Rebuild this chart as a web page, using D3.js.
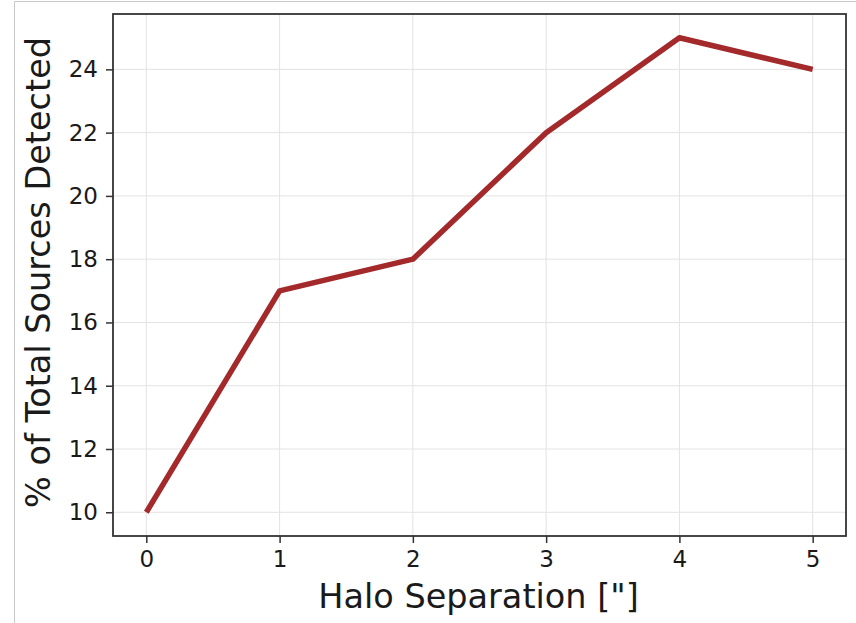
<!DOCTYPE html>
<html>
<head>
<meta charset="utf-8">
<script src="https://cdn.jsdelivr.net/npm/d3@7"></script>
<style>
	html, body { margin: 0; padding: 0; background: #fff; }
	svg { display: block; }
	.tick text { font-family: 'DejaVu Sans', sans-serif; fill: #1a1a1a; }
</style>
</head>
<body>
<div id="chart"></div>
<script>
// data
const separations = [0, 1, 2, 3, 4, 5];
const detectedPct = [10, 17, 18, 22, 25, 24];
const xTicks = [0, 1, 2, 3, 4, 5];
const yTicks = [10, 12, 14, 16, 18, 20, 22, 24];

const W = 856, H = 623;
const m = { top: 14, right: 10, bottom: 87, left: 113 };
const width = W - m.left - m.right,
	height = H - m.top - m.bottom;

const svg = d3.select('#chart').append('svg')
	.attr('width', W)
	.attr('height', H);

// faint frame from the screenshot
svg.append('path')
	.attr('d', 'M14.5,' + H + 'V1.5H' + W)
	.attr('fill', 'none')
	.attr('stroke', '#c8c8c8')
	.attr('stroke-width', 1);

const g = svg.append('g')
	.attr('transform', 'translate(' + m.left + ',' + m.top + ')');

// scales, matplotlib style 5% margins
const x = d3.scaleLinear().domain([-0.25, 5.25]).range([0, width]),
	y = d3.scaleLinear().domain([9.25, 25.75]).range([height, 0]);

// grid
g.append('g').selectAll('line')
	.data(xTicks).enter().append('line')
	.attr('x1', d => x(d)).attr('x2', d => x(d))
	.attr('y1', 0).attr('y2', height)
	.attr('stroke', '#e3e3e3').attr('stroke-width', 1);
g.append('g').selectAll('line')
	.data(yTicks).enter().append('line')
	.attr('x1', 0).attr('x2', width)
	.attr('y1', d => y(d)).attr('y2', d => y(d))
	.attr('stroke', '#e3e3e3').attr('stroke-width', 1);

// line
const line = d3.line()
	.x((d, i) => x(separations[i]))
	.y(d => y(d));

g.append('path')
	.datum(detectedPct)
	.attr('d', line)
	.attr('fill', 'none')
	.attr('stroke', '#a3292b')
	.attr('stroke-width', 5.5)
	.attr('stroke-linejoin', 'round')
	.attr('stroke-linecap', 'butt');

// axes
const xAxis = d3.axisBottom(x).tickValues(xTicks).tickFormat(d3.format('d'))
		.tickSize(7).tickSizeOuter(0).tickPadding(8),
	yAxis = d3.axisLeft(y).tickValues(yTicks).tickFormat(d3.format('d'))
		.tickSize(7).tickSizeOuter(0).tickPadding(8);

const gx = g.append('g')
	.attr('transform', 'translate(0,' + height + ')')
	.call(xAxis);
const gy = g.append('g').call(yAxis);

[gx, gy].forEach(a => {
	a.select('.domain').remove();
	a.selectAll('.tick line').attr('stroke', '#333').attr('stroke-width', 1.5);
	a.selectAll('.tick text').style('font-size', '23px');
});

// frame
g.append('rect')
	.attr('width', width).attr('height', height)
	.attr('fill', 'none')
	.attr('stroke', '#333').attr('stroke-width', 1.8);

// labels
svg.append('text')
	.attr('x', 478.5)
	.attr('y', 608)
	.attr('text-anchor', 'middle')
	.style('font-family', 'DejaVu Sans, sans-serif')
	.style('font-size', '33.5px')
	.attr('fill', '#1a1a1a')
	.text('Halo Separation ["]');

svg.append('text')
	.attr('transform', 'translate(50,' + 272.5 + ') rotate(-90)')
	.attr('text-anchor', 'middle')
	.style('font-family', 'DejaVu Sans, sans-serif')
	.style('font-size', '33.5px')
	.attr('fill', '#1a1a1a')
	.text('% of Total Sources Detected');
</script>
</body>
</html>
